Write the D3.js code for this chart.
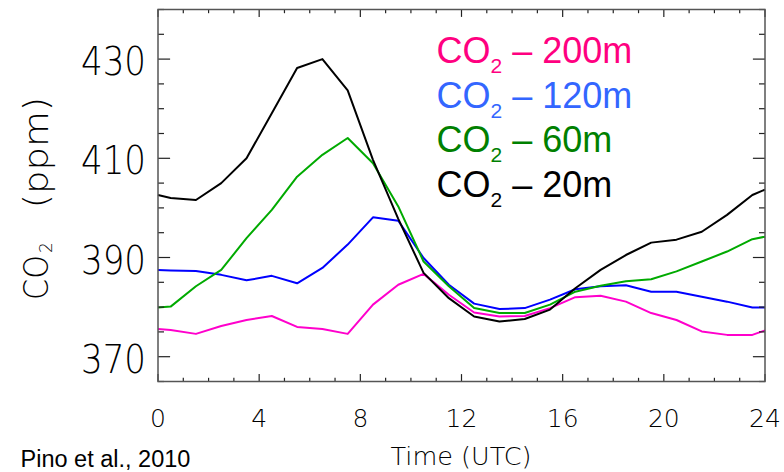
<!DOCTYPE html>
<html>
<head>
<meta charset="utf-8">
<script src="https://cdn.jsdelivr.net/npm/d3@7"></script>
<style>
  html, body { margin: 0; padding: 0; background: #fff; }
  svg { display: block; }
</style>
</head>
<body>
<svg id="chart" width="784" height="472"></svg>
<script>
// ---- data ----
const hours = [0, 0.5, 1.5, 2.5, 3.5, 4.5, 5.5, 6.5, 7.5, 8.5, 9.5, 10.5, 11.5,
  12.5, 13.5, 14.5, 15.5, 16.5, 17.5, 18.5, 19.5, 20.5, 21.5, 22.5, 23.5, 24];
const co2_200m = [375.6, 375.4, 374.6, 376.2, 377.4, 378.2, 376.0, 375.6, 374.6, 380.5, 384.5, 386.7, 382.5,
  378.9, 378.1, 378.2, 379.8, 382.0, 382.3, 381.1, 378.8, 377.4, 375.1, 374.4, 374.4, 375.3];
const co2_120m = [387.5, 387.4, 387.3, 386.5, 385.4, 386.3, 384.8, 387.9, 392.6, 398.1, 397.4, 389.9, 384.5,
  380.7, 379.6, 379.8, 381.5, 383.6, 384.2, 384.4, 383.1, 383.1, 382.1, 381.1, 379.9, 379.9];
const co2_60m = [379.9, 380.1, 384.2, 387.5, 393.9, 399.6, 406.3, 410.7, 414.1, 409.0, 400.3, 389.2, 384.2,
  379.8, 378.8, 378.8, 380.5, 383.1, 384.3, 385.2, 385.6, 387.2, 389.2, 391.2, 393.7, 394.2];
const co2_20m = [402.6, 402.0, 401.6, 405.0, 410.0, 419.1, 428.2, 430.0, 423.7, 409.7, 397.8, 386.9, 381.8,
  378.1, 377.1, 377.6, 379.5, 383.8, 387.5, 390.5, 393.0, 393.6, 395.2, 398.6, 402.6, 403.7];
const seriesNames = ["200m", "120m", "60m", "20m"];
const xTickValues = [0, 4, 8, 12, 16, 20, 24];
const yTickValues = [370, 390, 410, 430];
const xDomain = [0, 24];
const yDomain = [365, 440];

// ---- styling ----
const lineColors = {"200m": "#ff00cc", "120m": "#0000ff", "60m": "#00aa00", "20m": "#000000"};
const legendColors = {"200m": "#ff0080", "120m": "#3366ff", "60m": "#008000", "20m": "#000000"};
const seriesData = {"200m": co2_200m, "120m": co2_120m, "60m": co2_60m, "20m": co2_20m};

const svg = d3.select("#chart");
const L = 158, R = 765, T = 9.5, B = 381.5;
const x = d3.scaleLinear().domain(xDomain).range([L, R]);
const y = d3.scaleLinear().domain(yDomain).range([B, T]);

const tickFont = "'DejaVu Sans', sans-serif";

// lines
const line = d3.line().x((d, i) => x(hours[i])).y(d => y(d));
const drawOrder = ["200m", "120m", "60m", "20m"];
svg.append("g").selectAll("path").data(drawOrder).join("path")
  .attr("d", k => line(seriesData[k]))
  .attr("fill", "none")
  .attr("stroke", k => lineColors[k])
  .attr("stroke-width", 2)
  .attr("stroke-linejoin", "round");

// ticks (inward, mirrored)
const xMajorLen = 7.4, xMinorLen = 3.7, yMajorLen = 12.1, yMinorLen = 6;
const xMinor = d3.range(xDomain[0], xDomain[1] + 0.001, 1);
const yMinor = d3.range(yDomain[0], yDomain[1] + 0.001, 5);
const tg = svg.append("g").attr("stroke", "#222").attr("stroke-width", 1.2);
xMinor.forEach(v => {
  const len = (v % 4 === 0) ? xMajorLen : xMinorLen;
  tg.append("line").attr("x1", x(v)).attr("x2", x(v)).attr("y1", B).attr("y2", B - len);
  tg.append("line").attr("x1", x(v)).attr("x2", x(v)).attr("y1", T).attr("y2", T + len);
});
yMinor.forEach(v => {
  const len = ((v - 370) % 20 === 0) ? yMajorLen : yMinorLen;
  tg.append("line").attr("x1", L).attr("x2", L + len).attr("y1", y(v)).attr("y2", y(v));
  tg.append("line").attr("x1", R).attr("x2", R - len).attr("y1", y(v)).attr("y2", y(v));
});

// box
svg.append("rect").attr("x", L).attr("y", T).attr("width", R - L).attr("height", B - T)
  .attr("fill", "none").attr("stroke", "#555").attr("stroke-width", 1.5);

// x tick labels
svg.append("g").selectAll("text").data(xTickValues).join("text")
  .attr("x", d => x(d)).attr("y", 426.7)
  .attr("text-anchor", "middle")
  .style("font-family", tickFont).style("font-size", "25px").style("font-weight", 200)
  .text(d => d);

// y tick labels
svg.append("g").selectAll("text").data(yTickValues).join("text")
  .attr("x", 146).attr("y", d => y(d) + 16)
  .attr("text-anchor", "end")
  .attr("textLength", 65).attr("lengthAdjust", "spacingAndGlyphs")
  .style("font-family", tickFont).style("font-size", "39px").style("font-weight", 200)
  .text(d => d);

// x axis title
svg.append("text").attr("x", 461).attr("y", 464.7).attr("text-anchor", "middle")
  .style("font-family", tickFont).style("font-size", "25.5px").style("font-weight", 200)
  .text("Time (UTC)");

// y axis title (rotated)
const yl = svg.append("g").attr("transform", "translate(48.3,300) rotate(-90)")
  .style("font-family", tickFont).style("font-weight", 200);
yl.append("text").attr("x", 0).attr("y", 0).style("font-size", "34px")
  .attr("textLength", 45).attr("lengthAdjust", "spacingAndGlyphs").text("CO");
yl.append("text").attr("x", 47).attr("y", 4).style("font-size", "17px").text("2");
yl.append("text").attr("x", 91.7).attr("y", 0).style("font-size", "34px")
  .attr("textLength", 111.6).attr("lengthAdjust", "spacingAndGlyphs").text("(ppm)");

// legend
const legendFont = "'Liberation Sans', Arial, sans-serif";
const lg = svg.append("g").style("font-family", legendFont);
seriesNames.forEach((k, i) => {
  const t = lg.append("text").attr("x", 436.5).attr("y", 63 + i * 44.5)
    .attr("fill", legendColors[k]).style("font-size", "36px");
  t.append("tspan").text("CO");
  t.append("tspan").attr("dy", 10).style("font-size", "21px").text("2");
  t.append("tspan").attr("dy", -10).text(" \u2013 " + k);
});

// citation
svg.append("text").attr("x", 20.5).attr("y", 466.7)
  .style("font-family", legendFont).style("font-size", "23.5px")
  .text("Pino et al., 2010");
</script>
</body>
</html>
